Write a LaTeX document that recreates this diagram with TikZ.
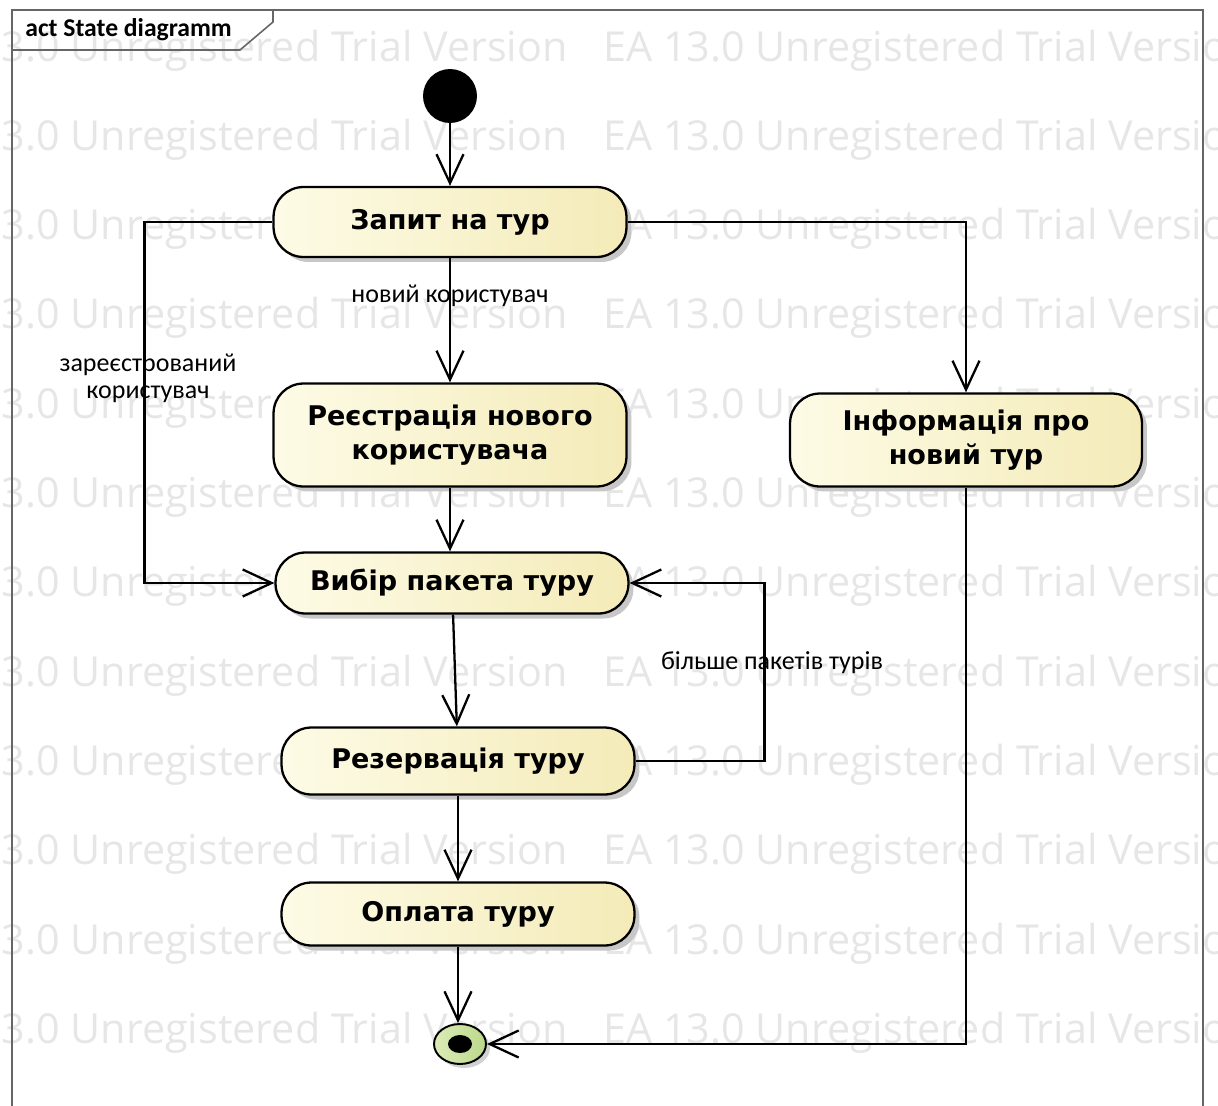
\documentclass[tikz,border=0pt]{standalone}
\usepackage{fontspec}
\setmainfont{Carlito}
\newfontfamily\statefont{DejaVu Sans}
\newfontfamily\markfont{Open Sans}
\usetikzlibrary{arrows.meta,shadows,shapes.geometric}
\definecolor{stateL}{HTML}{FDFBE6}
\definecolor{stateR}{HTML}{F4EBB8}
\definecolor{finL}{HTML}{DCEBB8}
\definecolor{finR}{HTML}{BBD88A}
\definecolor{framegr}{HTML}{666666}
\definecolor{markgr}{HTML}{E6E6E6}

\tikzset{
  actstate/.style={draw, line width=1.3pt, rounded corners=0.6cm,
    left color=stateL, right color=stateR, minimum width=7.06cm,
    align=center, font=\statefont\bfseries\fontsize{15.4}{19.5}\selectfont,
    drop shadow={shadow xshift=0.1cm, shadow yshift=-0.1cm, fill=black!22, opacity=1}},
  flow/.style={line width=1.3pt, -{Straight Barb[length=5.8mm,width=5.4mm,line width=1.3pt]}},
  guard/.style={font=\fontsize{14.8}{15.5}\selectfont, align=center, inner sep=1pt},
  wmark/.style={text=markgr, inner sep=0pt, font=\markfont\fontsize{23.5}{24}\selectfont},
}

\begin{document}
\begin{tikzpicture}[x=0.02cm, y=-0.02cm]
        \useasboundingbox (0,0) rectangle (1218,1106);
        % watermark
        \begin{scope}
            \clip (0,0) rectangle (1218,1106);
            \foreach \row in {0,...,11} {
                \node[wmark, anchor=base west] (wmA\row) at (-82,{61+89.3*\row}) {EA 13.0 Unregistered Trial Version};
                \node[wmark, anchor=base west] (wmB\row) at (603,{61+89.3*\row}) {EA 13.0 Unregistered Trial Version};
            }
        \end{scope}
        % frame
        \draw[framegr, line width=0.9pt] (12,1106) -- (12,10) -- (1203,10) -- (1203,1106);
        \draw[framegr, line width=0.9pt] (12,50) -- (240,50) -- (273,22) -- (273,10);
        \node[anchor=west, inner sep=0pt, font=\bfseries\fontsize{14.6}{15}\selectfont] (title) at (25,30) {act State diagramm};
        % states
        \node[circle, fill=black, minimum size=1.08cm, inner sep=0pt] (start) at (450,96) {};
        \node[actstate, minimum height=1.4cm] (zapyt) at (450,222) {Запит на тур};
        \node[actstate, minimum height=2.06cm] (reyestr) at (450,435) {Реєстрація нового\\користувача};
        \node[actstate, minimum height=1.22cm] (vybir) at (452,583) {Вибір пакета туру};
        \node[actstate, minimum height=1.34cm] (rezerv) at (458,761) {Резервація туру};
        \node[actstate, minimum height=1.26cm] (oplata) at (458,914) {Оплата туру};
        \node[actstate, minimum height=1.86cm, minimum width=7.04cm] (info) at (966,440) {Інформація про\\новий тур};
        \node[ellipse, draw, line width=1.1pt, left color=finL, right color=finR,
              minimum width=1.04cm, minimum height=0.8cm, inner sep=0pt,
              drop shadow={shadow xshift=0.08cm, shadow yshift=-0.08cm, fill=black!18, opacity=1}] (fin) at (460,1044) {};
        \fill (fin.center) ellipse [x radius=0.24cm, y radius=0.18cm];
        % transitions
        \draw[flow] (start) -- (zapyt);
        \draw[flow] (zapyt) -- node[guard, pos=0.3] (lblnew) {новий користувач} (reyestr);
        \draw[flow] (zapyt.west) -- ++(-128,0) |- (vybir.west);
        \draw[flow] (zapyt.east) -| (info.north);
        \draw[flow] (reyestr) -- (reyestr.south |- vybir.north);
        \draw[flow] (vybir) -- (rezerv);
        \draw[flow] (rezerv.east) -- ++(129,0) |- (vybir.east);
        \draw[flow] (rezerv) -- (oplata);
        \draw[flow] (oplata) -- (oplata.south |- fin.north);
        \draw[flow] (info.south) |- (fin.east);
        % labels
        \node[guard] (lblreg) at (148,378) {зареєстрований\\користувач};
        \node[guard] (lblmore) at (772,663) {більше пакетів турів};
    \end{tikzpicture}
\end{document}
